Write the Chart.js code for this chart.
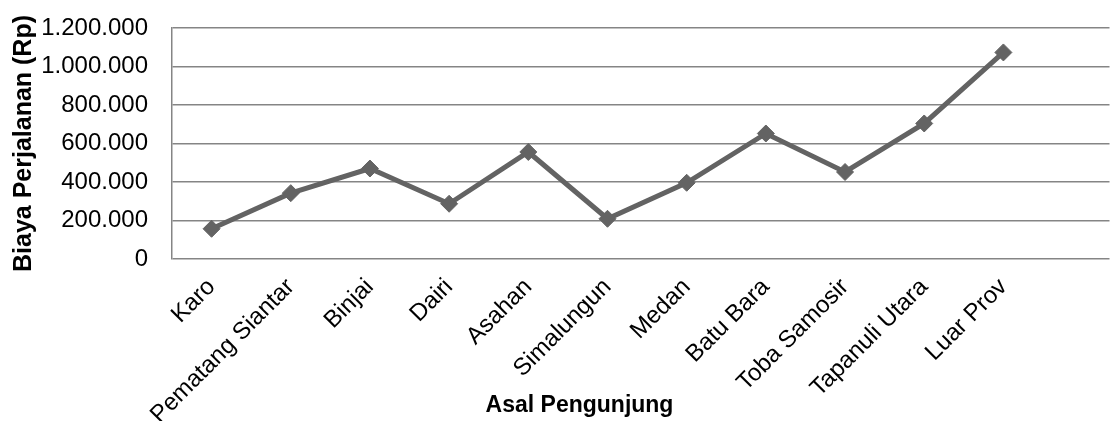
<!DOCTYPE html>
<html lang="id">
<head>
    <meta charset="UTF-8">
    <title>Biaya Perjalanan</title>
    <style>
        html, body { margin: 0; padding: 0; background: #fff; overflow: hidden; }
        #wrap { width: 1119px; height: 421px; }
    </style>
    <script src="https://cdn.jsdelivr.net/npm/chart.js"></script>
</head>
<body>
    <div id="wrap"><canvas id="chart" width="1119" height="421"></canvas></div>
    <script>
        // data
        const categories = ['Karo', 'Pematang Siantar', 'Binjai', 'Dairi', 'Asahan', 'Simalungun',
            'Medan', 'Batu Bara', 'Toba Samosir', 'Tapanuli Utara', 'Luar Prov'];
        const biaya = [157000, 342000, 470000, 287000, 556000, 209000, 396000, 652000, 452000, 704000, 1073000];
        const yTicks = [0, 200000, 400000, 600000, 800000, 1000000, 1200000];

        const FONT = '"Liberation Sans", Arial, sans-serif';
        const LINE = '#636363';
        const GRID = '#858585';

        function rupiah(v) {
            return String(v).replace(/\B(?=(\d{3})+(?!\d))/g, '.');
        }

        const points = biaya.map((v, i) => ({ x: i, y: v }));

        new Chart(document.getElementById('chart'), {
            type: 'line',
            data: {
                datasets: [{
                    data: points,
                    borderColor: LINE,
                    backgroundColor: LINE,
                    borderWidth: 5,
                    pointStyle: 'rectRot',
                    pointRadius: 8.5,
                    pointBorderWidth: 1,
                    pointBackgroundColor: LINE,
                    pointBorderColor: LINE,
                    tension: 0
                }]
            },
            options: {
                responsive: false,
                animation: false,
                layout: { padding: { left: 40, right: 0, top: 28, bottom: 0 } },
                plugins: {
                    legend: { display: false },
                    tooltip: { enabled: false },
                    // x axis title, kept out of the layout so the rotated labels can use the full height
                    title: {
                        display: true,
                        position: 'bottom',
                        text: 'Asal Pengunjung',
                        color: '#000',
                        font: { family: FONT, size: 23, weight: 'bold', lineHeight: 1.2 },
                        padding: { top: -28.8, bottom: 1.2 }
                    }
                },
                scales: {
                    x: {
                        type: 'linear',
                        min: -0.5,
                        max: 11.34,
                        afterBuildTicks: (scale) => {
                            scale.ticks = categories.map((c, i) => ({ value: i }));
                        },
                        afterFit: (scale) => { scale.height = 162; },
                        grid: { display: false },
                        border: { display: false },
                        ticks: {
                            autoSkip: false,
                            minRotation: 45,
                            maxRotation: 45,
                            padding: 6,
                            color: '#000',
                            font: { family: FONT, size: 24 },
                            callback: (value) => categories[value]
                        }
                    },
                    y: {
                        min: 0,
                        max: 1200000,
                        afterBuildTicks: (scale) => {
                            scale.ticks = yTicks.map(v => ({ value: v }));
                        },
                        afterFit: (scale) => {
                            scale.width = 132;
                            scale.paddingTop = 0;
                            scale.paddingBottom = 0;
                        },
                        grid: { color: GRID, lineWidth: 1.5, drawTicks: false },
                        border: { display: true, color: GRID, width: 1.5 },
                        ticks: {
                            padding: 24,
                            color: '#000',
                            font: { family: FONT, size: 24 },
                            callback: (value) => rupiah(value)
                        },
                        title: {
                            display: true,
                            text: 'Biaya Perjalanan (Rp)',
                            color: '#000',
                            font: { family: FONT, size: 25, weight: 'bold', lineHeight: 1.2 },
                            padding: { top: -31, bottom: 0 }
                        }
                    }
                }
            }
        });
    </script>
</body>
</html>
